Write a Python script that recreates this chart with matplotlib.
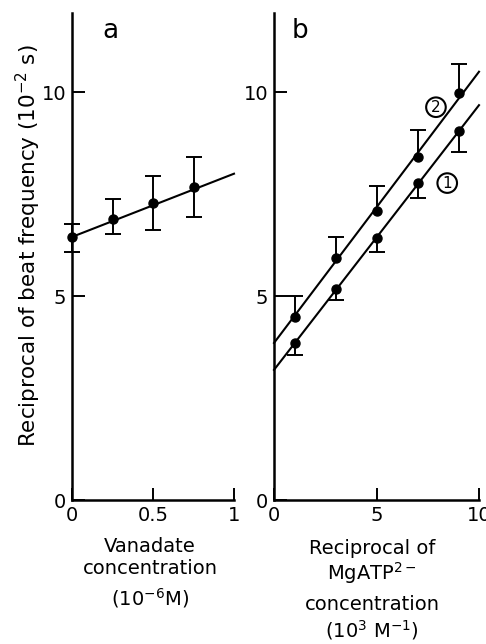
import matplotlib.pyplot as plt

# panel a: vanadate
a_x = [0, 0.25, 0.5, 0.75]
a_y = [6.45, 6.9, 7.27, 7.67]
a_hi = [6.76, 7.38, 7.95, 8.4]
a_lo = [6.08, 6.52, 6.62, 6.93]
a_fit_x = [0, 1]
a_fit_y = [6.45, 8.0]

# panel b: MgATP, curve 1 and 2
b_x = [1, 3, 5, 7, 9]
b1_y = [3.85, 5.17, 6.42, 7.77, 9.05]
b1_lo = [3.55, 4.9, 6.08, 7.4, 8.53]
b2_y = [4.49, 5.93, 7.08, 8.4, 9.98]
b2_hi = [5.0, 6.45, 7.7, 9.07, 10.7]
b_fit_x = [0, 10]
b1_fit_y = [3.19, 9.68]
b2_fit_y = [3.85, 10.5]

plt.rcParams['font.family'] = 'DejaVu Sans'
fig = plt.figure(figsize=(4.86, 6.44), dpi=100)

W, H = 486, 644
ax_a = fig.add_axes([72 / W, 144 / H, 162 / W, 487 / H])
ax_b = fig.add_axes([274 / W, 144 / H, 205 / W, 487 / H])

fs = 14
for ax in (ax_a, ax_b):
    ax.spines['top'].set_visible(False)
    ax.spines['right'].set_visible(False)
    ax.spines['left'].set_linewidth(1.8)
    ax.spines['bottom'].set_linewidth(1.8)
    ax.set_ylim(0, 11.94)
    ax.set_yticks([0, 5, 10])
    ax.set_yticklabels(['0', '5', '10'])
    ax.tick_params(direction='in', length=9, width=1.4, labelsize=fs, pad=4)


def one_sided(ax, xs, ys, ends):
    # error bar drawn on one side of the point only
    ax.vlines(xs, ys, ends, color='black', lw=1.4)
    ax.plot(xs, ends, ls='none', marker='_', ms=12, mew=1.4, color='black')
    ax.plot(xs, ys, ls='none', marker='o', ms=6.5, color='black')


# a
ax_a.set_xlim(0, 1)
ax_a.set_xticks([0, 0.5, 1])
ax_a.set_xticklabels(['0', '0.5', '1'])
ax_a.plot(a_fit_x, a_fit_y, color='black', lw=1.5, clip_on=False)
err_a = [[y - l for y, l in zip(a_y, a_lo)], [h - y for y, h in zip(a_y, a_hi)]]
ax_a.errorbar(a_x, a_y, yerr=err_a, fmt='o', color='black', ms=6.5,
              elinewidth=1.4, capsize=6, capthick=1.4, clip_on=False)
ax_a.text(0.24, 11.5, 'a', fontsize=19, ha='center', va='center')

# b
ax_b.set_xlim(0, 10)
ax_b.set_xticks([0, 5, 10])
ax_b.set_xticklabels(['0', '5', '10'])
ax_b.plot(b_fit_x, b1_fit_y, color='black', lw=1.5, clip_on=False)
ax_b.plot(b_fit_x, b2_fit_y, color='black', lw=1.5, clip_on=False)
one_sided(ax_b, b_x, b1_y, b1_lo)
one_sided(ax_b, b_x, b2_y, b2_hi)
ax_b.text(1.25, 11.5, 'b', fontsize=19, ha='center', va='center')
circ = dict(boxstyle='circle,pad=0.15', fc='white', ec='black', lw=1.5)
ax_b.text(7.9, 9.63, '2', fontsize=11, ha='center', va='center', bbox=circ)
ax_b.text(8.45, 7.77, '1', fontsize=11, ha='center', va='center', bbox=circ)

# axis labels
fig.text(28 / W, 1 - 246 / H, 'Reciprocal of beat frequency (10$^{-2}$ s)',
         rotation=90, ha='center', va='center', fontsize=15.5)
fig.text(150 / W, 1 - 547 / H, 'Vanadate', ha='center', va='center', fontsize=fs)
fig.text(150 / W, 1 - 569 / H, 'concentration', ha='center', va='center', fontsize=fs)
fig.text(150 / W, 1 - 598 / H, '(10$^{-6}$M)', ha='center', va='center', fontsize=fs)
fig.text(372 / W, 1 - 548 / H, 'Reciprocal of', ha='center', va='center', fontsize=fs)
fig.text(372 / W, 1 - 573 / H, 'MgATP$^{2-}$', ha='center', va='center', fontsize=fs)
fig.text(372 / W, 1 - 605 / H, 'concentration', ha='center', va='center', fontsize=fs)
fig.text(372 / W, 1 - 630 / H, '(10$^{3}$ M$^{-1}$)', ha='center', va='center', fontsize=fs)

fig.savefig('out.png', dpi=100)
